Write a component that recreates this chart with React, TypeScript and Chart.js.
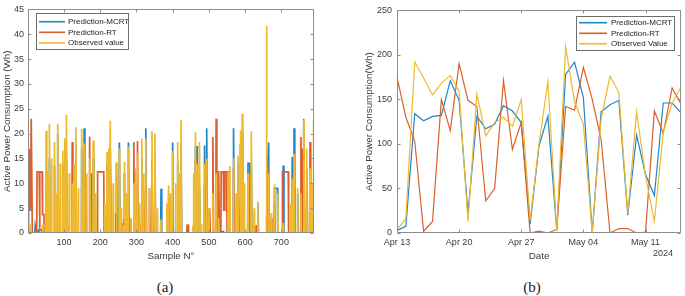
import React, { useEffect, useRef } from "react";
import { Chart, registerables } from "chart.js";
Chart.register(...registerables);

const FONT = "'Liberation Sans', Arial, sans-serif";
const TEXT = "#3a3a3a";
const BOX = "#8c8c8c";
const C_MCRT = "#1f86c8";
const C_RT = "#dc5f2c";
const C_OBS = "#eeb92f";

// ---------- Panel (a): Sample N° ----------
const sampleTicks = [100, 200, 300, 400, 500, 600, 700];
const powerTicksA = [0, 5, 10, 15, 20, 25, 30, 35, 40, 45];

const mcrtA: [number, number][] = [
  [1, 0], [2, 1.2], [4, 0.5], [6, 0], [20, 0], [21, 1.4], [23, 0.5], [25, 0.5], [27, 0],
  [30, 0], [31, 0.6], [38, 0.6], [39, 0], [50, 0], [51, 12.5], [53, 0], [59, 0], [60, 15], [62, 0],
  [73, 0], [74, 13.6], [76, 0], [82, 0], [83, 20], [85, 0], [96, 0], [97, 14], [99, 0],
  [106, 0], [107, 16], [109, 0], [122, 0], [123, 8], [125, 0], [132, 0], [133, 18], [135, 0],
  [148, 0], [149, 17], [151, 0], [155, 0], [156, 21.1], [158, 0], [171, 0], [172, 12], [174, 0],
  [180, 0], [181, 15], [183, 0], [218, 0], [219, 14], [221, 0], [227, 0], [228, 16], [230, 0],
  [244, 0], [245, 14], [247, 0], [252, 0], [253, 18.2], [255, 0], [266, 0], [267, 12], [269, 0],
  [277, 0], [278, 18.2], [280, 0], [297, 0], [298, 10], [300, 0], [314, 0], [315, 15], [317, 0],
  [325, 0], [326, 21.1], [328, 0], [342, 0], [343, 15], [345, 0], [350, 0], [351, 16], [353, 0],
  [367, 0], [368, 8.9], [370, 0], [388, 0], [389, 8], [391, 0], [399, 0], [400, 18.2], [402, 0],
  [413, 0], [414, 14], [416, 0], [422, 0], [423, 18], [425, 0], [462, 0], [463, 17.5], [465, 0],
  [467, 0], [468, 17.5], [470, 0], [473, 0], [474, 9.5], [476, 0], [487, 0], [488, 17.6], [490, 0],
  [493, 0], [494, 21.1], [496, 0], [499, 0], [500, 1.5], [501, 0], [519, 0], [520, 1.5], [521, 0],
  [532, 0], [533, 0.3], [540, 0.3], [541, 0], [552, 0], [553, 12.5], [555, 0], [567, 0], [568, 21.1], [570, 0],
  [579, 0], [580, 14], [582, 0], [586, 0], [587, 18], [589, 0], [591, 0], [592, 20], [594, 0],
  [607, 0], [608, 14], [613, 14], [614, 2], [615, 0], [616, 0], [617, 14], [619, 0],
  [634, 0], [635, 6], [637, 0], [658, 0], [659, 3.5], [660, 0], [661, 0], [662, 14], [665, 18.2], [666, 0],
  [680, 0], [681, 9], [689, 9], [690, 0], [704, 0], [705, 13.6], [707, 0], [729, 0], [730, 15.3], [732, 0],
  [734, 0], [735, 21.1], [737, 0], [744, 0], [745, 8], [747, 0], [761, 0], [762, 15], [764, 0],
  [769, 0], [770, 13], [772, 0], [788, 0], [789, 9], [790, 9],
];

const rtA: [number, number][] = [
  [1, 0], [2, 13.6], [3, 16.8], [5, 16.8], [6, 4.6], [8, 4.6], [9, 16], [10, 23], [12, 23], [13, 0],
  [25, 0], [26, 12.3], [32, 12.3], [33, 0.5], [34, 12.3], [40, 12.3], [41, 3.7], [45, 3.7], [46, 0],
  [59, 0], [60, 10], [62, 0], [96, 0], [97, 1.2], [110, 1.2], [111, 0],
  [122, 0], [123, 18.3], [125, 0], [129, 0], [130, 12], [132, 0], [148, 0], [149, 9], [151, 0],
  [170, 0], [171, 19.4], [173, 0], [175, 0], [176, 12], [178, 0], [192, 0], [193, 12.3], [210, 12.3], [211, 0],
  [221, 0], [222, 7.5], [224, 0], [227, 0], [228, 12], [230, 0], [242, 0], [243, 4], [245, 0],
  [259, 0], [260, 1.8], [265, 1.8], [266, 2.7], [284, 2.7], [285, 0], [292, 0], [293, 18.3], [295, 0],
  [302, 0], [303, 18.5], [305, 0], [310, 0], [311, 1.8], [313, 0], [319, 0], [320, 8.7], [322, 0],
  [335, 0], [336, 9], [338, 0], [342, 0], [343, 8.8], [345, 0], [350, 0], [351, 8.8], [353, 0],
  [439, 0], [440, 1.6], [443, 1.6], [444, 0], [462, 0], [463, 15], [465, 0], [476, 0], [477, 1.6], [479, 0],
  [487, 0], [488, 9.6], [490, 0], [493, 0], [494, 11], [496, 0], [501, 0], [502, 5], [504, 0],
  [510, 0], [511, 19.3], [513, 0], [519, 0], [520, 23], [522, 0], [526, 0], [527, 12.5], [529, 0],
  [533, 0], [534, 12.3], [540, 12.3], [541, 4.6], [543, 4.6], [544, 12.3], [549, 12.3], [550, 0],
  [567, 0], [568, 13], [570, 0], [579, 0], [580, 9], [582, 0], [591, 0], [592, 10], [594, 0],
  [607, 0], [608, 1.6], [610, 0], [613, 0], [614, 12], [616, 0], [629, 0], [630, 1.6], [632, 0],
  [661, 0], [662, 13.5], [664, 0], [671, 0], [672, 3], [674, 0], [680, 0], [681, 6], [683, 0],
  [702, 0], [703, 12.3], [719, 12.3], [720, 0], [729, 0], [730, 7.5], [732, 0], [734, 0], [735, 9], [737, 0],
  [753, 0], [754, 19.3], [756, 0], [757, 0], [758, 17], [760, 0], [761, 0], [762, 23], [764, 0],
  [778, 0], [779, 18.3], [781, 0], [782, 0], [783, 1], [785, 0], [786, 0], [787, 9], [790, 9],
];

const observedA: [number, number][] = [
  [1, 0.3], [3, 1.4], [5, 0.3], [8, 1.2], [10, 0], [40, 0], [41, 1.5], [48, 1.5], [49, 0],
  [50, 0], [51, 20.6], [53, 0], [54, 0], [55, 12], [56, 0], [59, 0], [60, 22], [62, 0],
  [65, 0], [66, 15], [67, 0], [73, 0], [74, 18.3], [76, 0], [78, 0], [79, 8], [80, 0],
  [82, 0], [83, 22], [85, 0], [89, 0], [90, 14], [91, 0], [96, 0], [97, 16.6], [99, 0],
  [101, 0], [102, 19], [103, 0], [106, 0], [107, 23.8], [109, 0], [114, 0], [115, 12], [116, 0],
  [122, 0], [123, 10], [124, 0], [127, 0], [128, 14], [129, 0], [132, 0], [133, 21.3], [135, 0],
  [139, 0], [140, 9], [141, 0], [148, 0], [149, 21], [151, 0], [155, 0], [156, 18], [157, 0],
  [162, 0], [163, 12], [164, 0], [171, 0], [172, 15], [173, 0], [180, 0], [181, 18.6], [183, 0],
  [187, 0], [188, 8], [189, 0], [212, 0], [213, 6], [214, 0], [218, 0], [219, 16.3], [220, 0],
  [223, 0], [224, 17], [225, 0], [227, 0], [228, 22.6], [230, 0], [235, 0], [236, 10], [237, 0],
  [244, 0], [245, 14.3], [246, 0], [252, 0], [253, 17], [254, 0], [257, 0], [258, 5], [259, 0],
  [266, 0], [267, 14.3], [268, 0], [271, 0], [272, 8], [273, 0], [277, 0], [278, 17.3], [279, 0],
  [284, 0], [285, 3], [286, 0], [292, 0], [293, 10], [294, 0], [297, 0], [298, 13], [299, 0],
  [302, 0], [303, 16], [304, 0], [308, 0], [309, 6], [310, 0], [314, 0], [315, 19], [317, 0],
  [319, 0], [320, 12], [321, 0], [325, 0], [326, 19], [327, 0], [335, 0], [336, 9], [337, 0],
  [342, 0], [343, 20.5], [345, 0], [350, 0], [351, 20], [353, 0], [357, 0], [358, 5], [359, 0],
  [367, 0], [368, 2.7], [369, 0], [383, 0], [384, 6], [385, 0], [388, 0], [389, 9.6], [390, 0],
  [394, 0], [395, 8], [396, 0], [399, 0], [400, 16.5], [401, 0], [407, 0], [408, 10], [409, 0],
  [413, 0], [414, 18.3], [416, 0], [417, 0], [418, 12], [419, 0], [422, 0], [423, 22.7], [425, 0],
  [454, 0], [455, 1.5], [456, 0], [457, 0], [458, 12], [459, 0], [462, 0], [463, 20.3], [465, 0],
  [467, 0], [468, 14], [469, 0], [473, 0], [474, 18.3], [476, 0], [478, 0], [479, 1.8], [480, 0],
  [487, 0], [488, 14], [489, 0], [493, 0], [494, 15], [495, 0], [499, 0], [500, 5], [501, 0],
  [510, 0], [511, 8], [512, 0], [519, 0], [520, 12], [521, 0], [526, 0], [527, 3], [528, 0],
  [552, 0], [553, 12.3], [554, 0], [557, 0], [558, 13.5], [559, 0], [567, 0], [568, 15], [569, 0],
  [574, 0], [575, 8], [576, 0], [579, 0], [580, 15.6], [581, 0], [586, 0], [587, 20.7], [588, 0],
  [591, 0], [592, 24], [594, 0], [597, 0], [598, 10], [599, 0], [607, 0], [608, 12], [609, 0],
  [616, 0], [617, 20.5], [619, 0], [624, 0], [625, 5], [626, 0], [634, 0], [635, 6.4], [636, 0],
  [658, 0], [659, 41.7], [660, 0], [664, 0], [665, 12], [666, 0], [671, 0], [672, 4], [673, 0],
  [680, 0], [681, 9.8], [682, 0], [689, 0], [690, 8], [691, 0], [704, 0], [705, 2], [706, 0],
  [724, 0], [725, 6], [726, 0], [729, 0], [730, 11], [731, 0], [734, 0], [735, 16], [736, 0],
  [744, 0], [745, 9], [746, 0], [753, 0], [754, 8], [755, 0], [761, 0], [762, 22.7], [764, 0],
  [769, 0], [770, 17], [771, 0], [778, 0], [779, 13], [780, 0], [784, 0], [785, 10], [786, 0],
  [788, 0], [789, 22.5], [790, 10],
];

// ---------- Panel (b): Date ----------
const dates = [
  "Apr 13", "Apr 14", "Apr 15", "Apr 16", "Apr 17", "Apr 18", "Apr 19", "Apr 20", "Apr 21", "Apr 22",
  "Apr 23", "Apr 24", "Apr 25", "Apr 26", "Apr 27", "Apr 28", "Apr 29", "Apr 30", "May 01", "May 02",
  "May 03", "May 04", "May 05", "May 06", "May 07", "May 08", "May 09", "May 10", "May 11", "May 12",
  "May 13", "May 14", "May 15",
];
const dateTicks = ["Apr 13", "Apr 20", "Apr 27", "May 04", "May 11"];
const powerTicksB = [0, 50, 100, 150, 200, 250];
const mcrtB = [3, 7.5, 134, 126, 131, 132, 171, 149, 22, 131, 117, 122, 143, 137, 124, 10, 98, 131, 3, 178, 192, 152, 0, 136, 144, 149, 20, 110, 66, 42, 146, 146, 135];
const rtB = [175, 130, 103, 2, 13, 150, 115, 190, 149, 142, 36, 50, 171, 94, 124, 0, 2, 0, 4, 142, 138, 186, 150, 105, 0, 5, 5, 0, 1, 137, 112, 163, 145];
const observedB = [4, 16, 192, 174, 155, 168, 177, 159, 13, 156, 109, 124, 130, 120, 150, 14, 100, 170, 3, 209, 148, 122, 0, 128, 176, 158, 22, 136, 64, 13, 113, 146, 164];

type LegendBox = { x: number; y: number; w: number; h: number; rows: number[]; l0: number; l1: number; tx: number };

function matlabAxes(legend: LegendBox, note?: { text: string; x: number; y: number }) {
  return {
    id: "matlabAxes",
    afterDraw(chart: any) {
      const { ctx, chartArea: a } = chart;
      ctx.save();
      const L = Math.round(a.left) + 0.5;
      const R = Math.round(a.right) - 0.5;
      const T = Math.round(a.top) + 0.5;
      const B = Math.round(a.bottom) - 0.5;
      ctx.strokeStyle = BOX;
      ctx.lineWidth = 1;
      ctx.beginPath();
      ctx.rect(L, T, R - L, B - T);
      ctx.stroke();
      const tl = 3;
      const xs = chart.scales.x;
      xs.ticks.forEach((t: any, i: number) => {
        if (t.label === "" || t.label == null) return;
        const p = Math.round(xs.getPixelForTick(i)) + 0.5;
        ctx.beginPath();
        ctx.moveTo(p, B); ctx.lineTo(p, B - tl);
        ctx.moveTo(p, T); ctx.lineTo(p, T + tl);
        ctx.stroke();
      });
      const ys = chart.scales.y;
      ys.ticks.forEach((t: any, i: number) => {
        const p = Math.round(ys.getPixelForTick(i)) + 0.5;
        ctx.beginPath();
        ctx.moveTo(L, p); ctx.lineTo(L + tl, p);
        ctx.moveTo(R, p); ctx.lineTo(R - tl, p);
        ctx.stroke();
      });
      // legend
      const lg = legend;
      ctx.fillStyle = "#ffffff";
      ctx.fillRect(lg.x, lg.y, lg.w, lg.h);
      ctx.strokeStyle = "#6e6e6e";
      ctx.strokeRect(lg.x + 0.5, lg.y + 0.5, lg.w, lg.h);
      chart.data.datasets.forEach((ds: any, i: number) => {
        const y = lg.rows[i];
        ctx.strokeStyle = ds.borderColor;
        ctx.lineWidth = 1.6;
        ctx.beginPath();
        ctx.moveTo(lg.l0, y); ctx.lineTo(lg.l1, y);
        ctx.stroke();
        ctx.fillStyle = "#222";
        ctx.font = `8px ${FONT}`;
        ctx.textBaseline = "middle";
        ctx.textAlign = "left";
        ctx.fillText(ds.label, lg.tx, y);
      });
      if (note) {
        ctx.fillStyle = TEXT;
        ctx.font = `9px ${FONT}`;
        ctx.textAlign = "center";
        ctx.textBaseline = "middle";
        ctx.fillText(note.text, note.x, note.y);
      }
      ctx.restore();
    },
  };
}

const tickFont = { family: FONT, size: 9 };
const titleFont = { family: FONT, size: 9.8 };

function configA(): any {
  const mk = (label: string, pts: [number, number][], color: string, order: number) => ({
    label,
    data: pts.map(([x, y]) => ({ x, y })),
    borderColor: color,
    backgroundColor: color,
    borderWidth: 1.7,
    pointRadius: 0,
    tension: 0,
    order,
  });
  return {
    type: "line",
    data: {
      datasets: [
        mk("Prediction-MCRT", mcrtA, C_MCRT, 3),
        mk("Prediction-RT", rtA, C_RT, 2),
        mk("Observed value", observedA, C_OBS, 1),
      ],
    },
    options: {
      animation: false,
      responsive: false,
      devicePixelRatio: 1,
      layout: { padding: { left: 0, right: 26, top: 8, bottom: 0 } },
      plugins: { legend: { display: false }, tooltip: { enabled: false } },
      scales: {
        x: {
          type: "linear",
          min: 1,
          max: 790,
          grid: { display: false, drawTicks: false },
          border: { display: false },
          afterBuildTicks: (s: any) => { s.ticks = sampleTicks.map((v) => ({ value: v })); },
          afterFit: (s: any) => { s.height = 37; },
          ticks: { color: TEXT, font: tickFont, padding: 4, maxRotation: 0, autoSkip: false },
          title: { display: true, text: "Sample N°", color: TEXT, font: titleFont, padding: { top: 0, bottom: 8 } },
        },
        y: {
          min: 0,
          max: 45,
          grid: { display: false, drawTicks: false },
          border: { display: false },
          afterBuildTicks: (s: any) => { s.ticks = powerTicksA.map((v) => ({ value: v })); },
          afterFit: (s: any) => { s.width = 28; },
          ticks: { color: TEXT, font: tickFont, padding: 4 },
          title: { display: true, text: "Active Power Consumption (Wh)", color: TEXT, font: titleFont, padding: { top: 1.5, bottom: 0 } },
        },
      },
    },
    plugins: [matlabAxes({ x: 36, y: 13, w: 92, h: 36, rows: [21.7, 32.3, 43], l0: 39, l1: 65, tx: 68 })],
  };
}

function configB(): any {
  const mk = (label: string, vals: number[], color: string, order: number) => ({
    label,
    data: vals,
    borderColor: color,
    backgroundColor: color,
    borderWidth: 1.2,
    pointRadius: 0,
    tension: 0,
    order,
  });
  return {
    type: "line",
    data: {
      labels: dates,
      datasets: [
        mk("Prediction-MCRT", mcrtB, C_MCRT, 3),
        mk("Prediction-RT", rtB, C_RT, 2),
        mk("Observed Value", observedB, C_OBS, 1),
      ],
    },
    options: {
      animation: false,
      responsive: false,
      devicePixelRatio: 1,
      layout: { padding: { left: 0, right: 4, top: 8, bottom: 0 } },
      plugins: { legend: { display: false }, tooltip: { enabled: false } },
      scales: {
        x: {
          type: "category",
          offset: false,
          grid: { display: false, drawTicks: false },
          border: { display: false },
          afterFit: (s: any) => { s.height = 37; },
          ticks: {
            color: TEXT, font: tickFont, padding: 4, maxRotation: 0, autoSkip: false,
            callback: function (this: any, v: any, i: number) {
              const lab = dates[i];
              return dateTicks.includes(lab) ? lab : "";
            },
          },
          title: { display: true, text: "Date", color: TEXT, font: titleFont, padding: { top: 0, bottom: 8 } },
        },
        y: {
          min: 0,
          max: 250,
          grid: { display: false, drawTicks: false },
          border: { display: false },
          afterBuildTicks: (s: any) => { s.ticks = powerTicksB.map((v) => ({ value: v })); },
          afterFit: (s: any) => { s.width = 57; },
          ticks: { color: TEXT, font: tickFont, padding: 5 },
          title: { display: true, text: "Active Power Consumption(Wh)", color: TEXT, font: titleFont, padding: { top: 23.4, bottom: 0 } },
        },
      },
    },
    plugins: [
      matlabAxes(
        { x: 236, y: 16, w: 98, h: 34, rows: [22.7, 33.3, 43.7], l0: 239, l1: 267, tx: 271 },
        { text: "2024", x: 323, y: 254 }
      ),
    ],
  };
}

function ChartCanvas({ make, left, width, height }: { make: () => any; left: number; width: number; height: number }) {
  const ref = useRef<HTMLCanvasElement>(null);
  useEffect(() => {
    const chart = new Chart(ref.current as HTMLCanvasElement, make());
    return () => chart.destroy();
  }, []);
  return (
    <canvas
      ref={ref}
      width={width}
      height={height}
      style={{ position: "absolute", left, top: 0, width, height }}
    />
  );
}

const captionStyle = (cx: number): React.CSSProperties => ({
  position: "absolute",
  left: cx - 30,
  width: 60,
  top: 278,
  lineHeight: "18px",
  textAlign: "center",
  fontFamily: "'Liberation Serif', 'DejaVu Serif', serif",
  fontSize: 15,
  color: "#222",
});

export default function App() {
  return (
    <div style={{ position: "absolute", left: 0, top: 0, width: 685, height: 296, background: "#fff", overflow: "hidden" }}>
      <ChartCanvas make={configA} left={0} width={340} height={270} />
      <ChartCanvas make={configB} left={340} width={345} height={270} />
      <div style={captionStyle(165)}>(a)</div>
      <div style={captionStyle(532)}>(b)</div>
    </div>
  );
}
